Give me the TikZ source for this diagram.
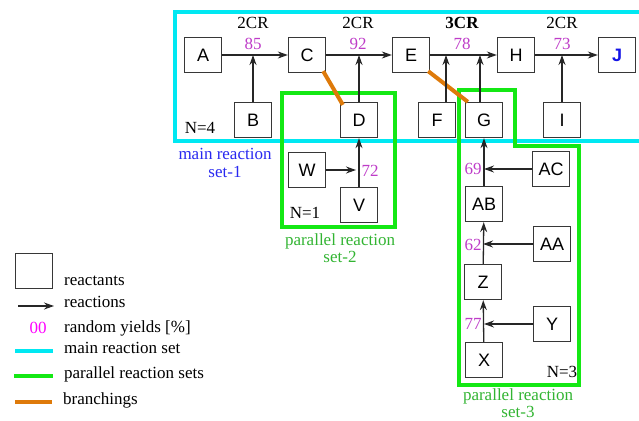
\documentclass[tikz,border=0pt]{standalone}
\usepackage{fontspec}
\setmainfont{Liberation Serif}
\newfontfamily\boxfont{Liberation Sans}
\usetikzlibrary{arrows.meta}
\definecolor{cyanset}{RGB}{0,232,242}
\definecolor{greenset}{RGB}{20,232,20}
\definecolor{greentext}{RGB}{50,180,50}
\definecolor{branchc}{RGB}{222,122,10}
\definecolor{yieldc}{RGB}{190,60,200}
\definecolor{legendmag}{RGB}{255,0,255}
\definecolor{boxgray}{RGB}{55,55,55}
\definecolor{settext}{RGB}{40,40,240}
\definecolor{jblue}{RGB}{20,20,230}

\tikzset{
  box/.style={draw=boxgray, fill=white, line width=1.3pt, minimum width=37pt,
    minimum height=35pt, inner sep=0pt, font=\boxfont\fontsize{18}{18}\selectfont},
  rx/.style={-{Stealth[length=10pt,width=7pt]}, line width=1.3pt, draw=black!85},
  yield/.style={text=yieldc, inner sep=0pt, font=\fontsize{17}{18}\selectfont},
  lbl/.style={inner sep=0pt, font=\fontsize{17}{18}\selectfont},
  settitle/.style={inner sep=0pt, align=center, font=\fontsize{17}{17.5}\selectfont},
  mainset/.style={draw=cyanset, line width=4pt},
  parset/.style={draw=greenset, line width=4pt},
  branch/.style={draw=branchc, line width=4pt},
}

\begin{document}
\begin{tikzpicture}[x=1pt,y=-1pt]
\useasboundingbox (0,0) rectangle (639,420);

% reaction set frames
\draw[mainset] (175,12) rectangle (660,141);
\draw[parset] (282,93) rectangle (395,227);
\draw[parset] (459,90) -- (515,90) -- (515,146) -- (579,146) -- (579,385) -- (459,385) -- cycle;

% reactants: main set
\node[box] (A) at (203,55) {A};
\node[box] (C) at (307,55) {C};
\node[box] (E) at (411,55) {E};
\node[box] (H) at (516,55) {H};
\node[box, text=jblue, font=\boxfont\bfseries\fontsize{18}{18}\selectfont] (J) at (617,55) {J};
\node[box] (B) at (253,120) {B};
\node[box] (D) at (359,120) {D};
\node[box] (F) at (437,120) {F};
\node[box] (G) at (484,120) {G};
\node[box] (I) at (562,120) {I};

% reactants: parallel set 2
\node[box] (W) at (307,170) {W};
\node[box] (V) at (359,205) {V};

% reactants: parallel set 3
\node[box] (AC) at (551,169) {AC};
\node[box] (AB) at (484,204) {AB};
\node[box] (AA) at (552,244) {AA};
\node[box] (Z) at (483,282) {Z};
\node[box] (Y) at (552,324) {Y};
\node[box] (X) at (484,360) {X};

% branchings
\draw[branch] ([shift={(-3,-2)}]C.south east) -- ([shift={(3,3)}]D.north west);
\draw[branch] ([shift={(-2,-2)}]E.south east) -- ([shift={(3,0)}]G.north west);

% main set reactions
\coordinate (jF) at (446,55);
\coordinate (jG) at (480,55);
\draw[rx] (A) -- (C);
\draw[rx] (B) -- (B |- A);
\draw[rx] (C) -- (E);
\draw[rx] (D) -- (D |- C);
\draw[rx] (E) -- (H);
\draw[rx] (F.north -| jF) -- (jF);
\draw[rx] (G.north -| jG) -- (jG);
\draw[rx] (H) -- (J);
\draw[rx] (I) -- (I |- H);

% parallel set 2 reactions
\coordinate (jW) at (356,170);
\draw[rx] (V) -- (D);
\draw[rx] (W) -- (jW);

% parallel set 3 reactions
\draw[rx] (X) -- (Z);
\draw[rx] (Z) -- (AB);
\draw[rx] (AB.north) -- (AB.north |- G.south);
\draw[rx] (Y) -- (Y -| X);
\draw[rx] (AA) -- (AA -| Z);
\draw[rx] (AC) -- (AC -| AB);

% reaction classes and yields
\node[lbl] (c1) at (253,23) {2CR};
\node[lbl] (c2) at (358,23) {2CR};
\node[lbl, font=\bfseries\fontsize{17}{18}\selectfont] (c3) at (462,23) {3CR};
\node[lbl] (c4) at (562,23) {2CR};
\node[yield] (y1) at (253,44) {85};
\node[yield] (y2) at (358,44) {92};
\node[yield] (y3) at (462,44) {78};
\node[yield] (y4) at (562,44) {73};
\node[yield] (y5) at (370,171) {72};
\node[yield] (y6) at (473,169) {69};
\node[yield] (y7) at (473,245) {62};
\node[yield] (y8) at (473,324) {77};

% set sizes and titles
\node[lbl] (n4) at (200,128) {N=4};
\node[lbl] (n1) at (305,213) {N=1};
\node[lbl] (n3) at (562,372) {N=3};
\node[settitle, text=settext] (t1) at (225,163) {main reaction\\set-1};
\node[settitle, text=greentext] (t2) at (340,248) {parallel reaction\\set-2};
\node[settitle, text=greentext] (t3) at (518,403) {parallel reaction\\set-3};

% legend
\node[box] (lgbox) at (34,271) {};
\coordinate (la1) at (18,306);
\coordinate (la2) at (54,306);
\draw[rx] (la1) -- (la2);
\node[lbl, text=legendmag] (lg00) at (38,328) {00};
\coordinate (lc1) at (15,351);
\coordinate (lc2) at (53,351);
\draw[mainset] (lc1) -- (lc2);
\coordinate (lp1) at (14,376);
\coordinate (lp2) at (53,376);
\draw[parset] (lp1) -- (lp2);
\coordinate (lb1) at (15,402);
\coordinate (lb2) at (52,402);
\draw[branch] (lb1) -- (lb2);
\node[lbl, anchor=base west] (l1) at (64,285) {reactants};
\node[lbl, anchor=base west] (l2) at (64,307) {reactions};
\node[lbl, anchor=base west] (l3) at (64,332) {random yields [\%]};
\node[lbl, anchor=base west] (l4) at (64,353) {main reaction set};
\node[lbl, anchor=base west] (l5) at (64,378) {parallel reaction sets};
\node[lbl, anchor=base west] (l6) at (63,404) {branchings};
\end{tikzpicture}
\end{document}
